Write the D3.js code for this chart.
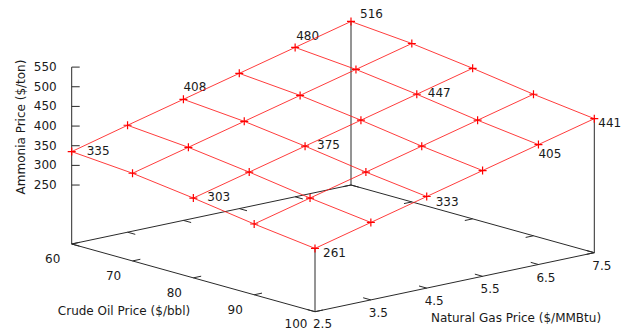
<!DOCTYPE html>
<html>
<head>
<meta charset="utf-8">
<script src="https://cdn.jsdelivr.net/npm/d3@7"></script>
<style>
  html, body { margin: 0; padding: 0; background: #fff; }
  svg { display: block; }
  text { font-family: "DejaVu Sans", Verdana, sans-serif; font-size: 12px; fill: #1a1a1a; }
</style>
</head>
<body>
<div id="chart"></div>
<script>
// Axis values of the grid
const crudeOilPrices = [60, 70, 80, 90, 100];          // $/bbl
const naturalGasPrices = [2.5, 3.5, 4.5, 5.5, 6.5, 7.5]; // $/MMBtu

// Ammonia price ($/ton) for each crude oil price, across natural gas prices
const ammoniaAtOil60 = [335, 372, 408, 444, 480, 516];
const ammoniaAtOil70 = [323, 359, 395, 431, 467, 503];
const ammoniaAtOil80 = [303, 339, 375, 411, 447, 483];
const ammoniaAtOil90 = [280, 316, 352, 388, 424, 460];
const ammoniaAtOil100 = [261, 297, 333, 369, 405, 441];

// Tick labels
const oilTicks = [60, 70, 80, 90, 100];
const gasTicks = [2.5, 3.5, 4.5, 5.5, 6.5, 7.5];
const ammoniaTicks = [250, 300, 350, 400, 450, 500, 550];

// Grid cells whose value is written next to the point: [oil, gas]
const labeledCells = [
  [60, 2.5], [60, 4.5], [60, 6.5], [60, 7.5],
  [80, 2.5], [80, 4.5], [80, 6.5],
  [100, 2.5], [100, 4.5], [100, 6.5], [100, 7.5]
];

const ammoniaRows = [ammoniaAtOil60, ammoniaAtOil70, ammoniaAtOil80, ammoniaAtOil90, ammoniaAtOil100];

const W = 625, H = 329;
const svg = d3.select("#chart").append("svg").attr("width", W).attr("height", H);
svg.append("rect").attr("width", W).attr("height", H).attr("fill", "#fff");

// Orthographic 3D view: base plane drawn half a z-range below the lowest tick
const zMin = 250, zMax = 550;
const zBase = zMin - 0.5 * (zMax - zMin);
const oilScale = d3.scaleLinear().domain([60, 100]).range([0, 1]);
const gasScale = d3.scaleLinear().domain([2.5, 7.5]).range([0, 1]);
const zScale = d3.scaleLinear().domain([zBase, zMax]).range([0, 176.9]);
const origin = [71.7, 244];
const oilVec = [243.3, 67.7];
const gasVec = [279.3, -59];

function project(oil, gas, z) {
  const u = oilScale(oil), v = gasScale(gas);
  return [
    origin[0] + u * oilVec[0] + v * gasVec[0],
    origin[1] + u * oilVec[1] + v * gasVec[1] - zScale(z)
  ];
}
const unit = v => { const l = Math.hypot(v[0], v[1]); return [v[0] / l, v[1] / l]; };
const oilDir = unit(oilVec), gasDir = unit(gasVec);

const axisColor = "#2a2a2a";
const gAxes = svg.append("g").attr("stroke", axisColor).attr("stroke-width", 1).attr("fill", "none");
const seg = (g, a, b) => g.append("line").attr("x1", a[0]).attr("y1", a[1]).attr("x2", b[0]).attr("y2", b[1]);

// Base box
const oMin = 60, oMax = 100, gMin = 2.5, gMax = 7.5;
const cLeft = project(oMin, gMin, zBase), cFront = project(oMax, gMin, zBase),
      cRight = project(oMax, gMax, zBase), cBack = project(oMin, gMax, zBase);
seg(gAxes, cLeft, cFront);
seg(gAxes, cFront, cRight);
seg(gAxes, cRight, cBack);
seg(gAxes, cBack, cLeft);

// z axis at the left corner
seg(gAxes, cLeft, project(oMin, gMin, zMax));

// Vertical lines from the base corners up to the surface corners
const valueAt = (oil, gas) => ammoniaRows[crudeOilPrices.indexOf(oil)][naturalGasPrices.indexOf(gas)];
[[oMax, gMin], [oMax, gMax], [oMin, gMax]].forEach(([o, g]) => {
  seg(gAxes, project(o, g, zBase), project(o, g, valueAt(o, g)));
});

// Ticks
const tickLen = 8;
oilTicks.forEach(t => {
  const p = project(t, gMin, zBase);
  seg(gAxes, p, [p[0] + gasDir[0] * tickLen, p[1] + gasDir[1] * tickLen]);
  const q = project(t, gMax, zBase);
  seg(gAxes, q, [q[0] - gasDir[0] * tickLen, q[1] - gasDir[1] * tickLen]);
});
gasTicks.forEach(t => {
  const p = project(oMax, t, zBase);
  seg(gAxes, p, [p[0] - oilDir[0] * tickLen, p[1] - oilDir[1] * tickLen]);
  const q = project(oMin, t, zBase);
  seg(gAxes, q, [q[0] + oilDir[0] * tickLen, q[1] + oilDir[1] * tickLen]);
});
ammoniaTicks.forEach(t => {
  const p = project(oMin, gMin, t);
  seg(gAxes, p, [p[0] + tickLen, p[1]]);
});

// Tick labels (kept inside the bottom edge of the canvas)
const gText = svg.append("g");
const maxLabelY = H - 5.5;
oilTicks.forEach(t => {
  const p = project(t, gMin, zBase);
  gText.append("text").attr("x", p[0] - 19).attr("y", Math.min(p[1] + 15, maxLabelY))
    .attr("text-anchor", "middle").attr("dominant-baseline", "central").text(t);
});
gasTicks.forEach(t => {
  const p = project(oMax, t, zBase);
  gText.append("text").attr("x", p[0] + 7.5).attr("y", Math.min(p[1] + 13, maxLabelY))
    .attr("text-anchor", "middle").attr("dominant-baseline", "central").text(d3.format(".1f")(t));
});
ammoniaTicks.forEach(t => {
  const p = project(oMin, gMin, t);
  gText.append("text").attr("x", p[0] - 15).attr("y", p[1])
    .attr("text-anchor", "end").attr("dominant-baseline", "central").text(t);
});

// Axis titles
gText.append("text").attr("x", 124).attr("y", 311)
  .attr("text-anchor", "middle").attr("dominant-baseline", "central").text("Crude Oil Price ($/bbl)");
gText.append("text").attr("x", 516).attr("y", 318)
  .attr("text-anchor", "middle").attr("dominant-baseline", "central").text("Natural Gas Price ($/MMBtu)");
gText.append("text").attr("transform", "translate(21,127) rotate(-90)")
  .attr("text-anchor", "middle").attr("dominant-baseline", "central").text("Ammonia Price ($/ton)");

// Surface mesh
const surfColor = "#ff1a1a";
const gSurf = svg.append("g").attr("fill", "none").attr("stroke", surfColor);
const line = d3.line();
crudeOilPrices.forEach((o, i) => {
  gSurf.append("path").attr("stroke-width", 1).attr("stroke-opacity", 0.85)
    .attr("d", line(naturalGasPrices.map((g, j) => project(o, g, ammoniaRows[i][j]))));
});
naturalGasPrices.forEach((g, j) => {
  gSurf.append("path").attr("stroke-width", 1).attr("stroke-opacity", 0.85)
    .attr("d", line(crudeOilPrices.map((o, i) => project(o, g, ammoniaRows[i][j]))));
});

// Point markers (+)
const m = 4;
crudeOilPrices.forEach((o, i) => {
  naturalGasPrices.forEach((g, j) => {
    const p = project(o, g, ammoniaRows[i][j]);
    gSurf.append("path").attr("stroke", "#ff0000").attr("stroke-width", 1.2)
      .attr("d", `M${p[0] - m},${p[1]}H${p[0] + m}M${p[0]},${p[1] - m}V${p[1] + m}`);
  });
});

// Value labels beside selected points
const labelNudge = [
  [15, -1], [0, -12], [1, -11], [9, -7],
  [14, -1], [12, -1], [11, -1],
  [8, 5], [9, 5], [0, 9], [4, 4]
];
labeledCells.forEach(([o, g], k) => {
  const v = valueAt(o, g);
  const p = project(o, g, v);
  gText.append("text").attr("x", p[0] + labelNudge[k][0]).attr("y", p[1] + labelNudge[k][1])
    .attr("dominant-baseline", "central").text(v);
});
</script>
</body>
</html>
